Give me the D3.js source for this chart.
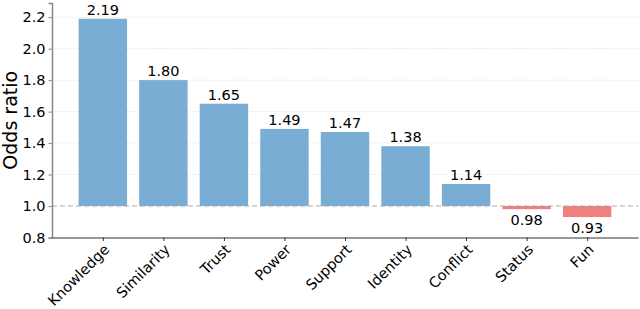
<!DOCTYPE html>
<html>
<head>
<meta charset="utf-8" />
<style>
  body { margin: 0; background: #fff; }
  svg text { font-family: "DejaVu Sans", sans-serif; fill: #000; }
</style>
</head>
<body>
<div id="chart"></div>
<script src="https://cdn.jsdelivr.net/npm/d3@7"></script>
<script>
  var categories = ["Knowledge", "Similarity", "Trust", "Power", "Support", "Identity", "Conflict", "Status", "Fun"];
  var oddsRatios = [2.19, 1.80, 1.65, 1.49, 1.47, 1.38, 1.14, 0.98, 0.93];
  var yTicks = [0.8, 1.0, 1.2, 1.4, 1.6, 1.8, 2.0, 2.2];

  var width = 640, height = 309;
  var margin = { left: 52, right: 2, top: 3, bottom: 71.5 };

  var svg = d3.select("#chart").append("svg")
    .attr("width", width)
    .attr("height", height);

  // matplotlib-like x limits: bars at integer positions, 0.05 margin
  var n = categories.length;
  var x = d3.scaleLinear()
    .domain([-0.84, n - 1 + 0.84])
    .range([margin.left, width - margin.right]);
  var y = d3.scaleLinear()
    .domain([0.8, 2.29])
    .range([height - margin.bottom, margin.top]);
  var barW = x(0.8) - x(0);

  // grid
  svg.append("g")
    .selectAll("line")
    .data(yTicks.filter(d => d !== 1.0 && d !== 0.8))
    .join("line")
    .attr("x1", margin.left).attr("x2", width - margin.right)
    .attr("y1", d => y(d)).attr("y2", d => y(d))
    .attr("stroke", "#d8d8d8")
    .attr("stroke-width", 0.8)
    .attr("stroke-dasharray", "1,1.5");

  // bars
  svg.append("g")
    .selectAll("rect")
    .data(oddsRatios)
    .join("rect")
    .attr("x", (d, i) => x(i) - barW / 2)
    .attr("width", barW)
    .attr("y", d => y(Math.max(d, 1)))
    .attr("height", d => Math.abs(y(d) - y(1)))
    .attr("fill", d => d >= 1 ? "#7aadd4" : "#f08080");

  // reference line at 1.0
  svg.append("line")
    .attr("x1", margin.left).attr("x2", width - margin.right)
    .attr("y1", y(1)).attr("y2", y(1))
    .attr("stroke", "#aaaaaa")
    .attr("stroke-width", 1)
    .attr("stroke-dasharray", "5,3");

  // value labels
  svg.append("g")
    .selectAll("text")
    .data(oddsRatios)
    .join("text")
    .attr("x", (d, i) => x(i))
    .attr("y", d => d >= 1 ? y(d) - 4 : y(d) + 15.5)
    .attr("text-anchor", "middle")
    .attr("font-size", 14.5)
    .text(d => d.toFixed(2));

  // y axis
  var yAxis = svg.append("g")
    .attr("transform", `translate(${margin.left},0)`)
    .call(d3.axisLeft(y).tickValues(yTicks).tickFormat(d3.format(".1f")).tickSize(3.5).tickPadding(3));
  yAxis.select(".domain").attr("stroke", "#888").attr("stroke-width", 1.5);
  yAxis.selectAll(".tick line").attr("stroke", "#888");
  yAxis.selectAll("text").attr("font-size", 14.5).attr("fill", "#000");

  // x axis
  var xAxis = svg.append("g")
    .attr("transform", `translate(0,${height - margin.bottom})`)
    .call(d3.axisBottom(x).tickValues(d3.range(n)).tickFormat(i => categories[i]).tickSize(3.5).tickSizeOuter(0));
  xAxis.select(".domain").attr("stroke", "#333").attr("stroke-width", 1.2);
  xAxis.selectAll(".tick line").attr("stroke", "#333");
  xAxis.selectAll("text")
    .attr("font-size", 14.5)
    .attr("fill", "#000")
    .attr("text-anchor", "end")
    .attr("dy", null)
    .attr("y", 0)
    .attr("transform", "translate(7,13) rotate(-45)");

  // y axis label
  svg.append("text")
    .attr("transform", `translate(17,${(y.range()[0] + y.range()[1]) / 2}) rotate(-90)`)
    .attr("text-anchor", "middle")
    .attr("font-size", 19)
    .text("Odds ratio");
</script>
</body>
</html>
